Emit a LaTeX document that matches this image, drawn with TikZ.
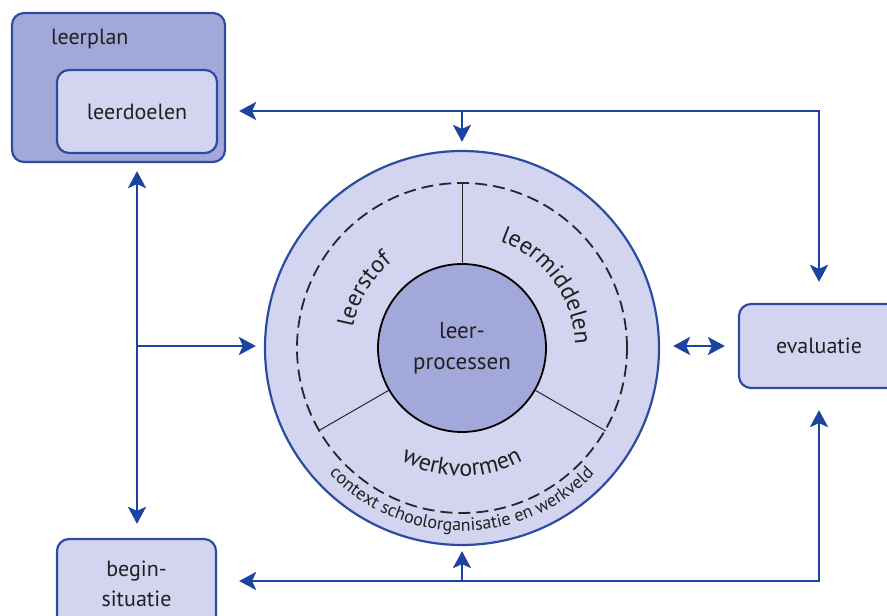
\documentclass[tikz,border=0pt]{standalone}
\usepackage{fontspec}
\setmainfont{PT Sans}
\usetikzlibrary{arrows.meta,decorations.text}
\definecolor{lineblue}{HTML}{1D43A0}
\definecolor{boxblue}{HTML}{2C4CA2}
\definecolor{lightfill}{HTML}{D3D5F0}
\definecolor{darkfill}{HTML}{A3A8DA}
\definecolor{txt}{HTML}{231F20}
\begin{document}
\begin{tikzpicture}[x=1pt,y=1pt,
  bluebox/.style={draw=boxblue, line width=2.2pt, rounded corners=12pt, fill=lightfill,
    inner sep=0pt, text=txt, font=\fontsize{22}{30}\selectfont, align=center},
  arr/.style={draw=lineblue, line width=2.8pt, -{Stealth[length=17pt,width=18pt,inset=4pt]}},
  arrboth/.style={draw=lineblue, line width=2.8pt, {Stealth[length=17pt,width=18pt,inset=4pt]}-{Stealth[length=17pt,width=18pt,inset=4pt]}},
  ctext/.style={decorate, decoration={text along path, text align=center, text={#1}}}
]
\useasboundingbox (0,0) rectangle (887,616);
\clip (0,0) rectangle (887,616);
\coordinate (C) at (462,268);

% boxes
\node[bluebox, fill=darkfill, minimum width=213pt, minimum height=149pt] (leerplan) at (118.5,528.5) {};
\node[text=txt, font=\fontsize{22}{30}\selectfont, anchor=base west, inner sep=0pt] (leerplanlabel) at (51,571) {leerplan};
\node[bluebox, minimum width=160pt, minimum height=83pt] (leerdoelen) at (137,504.5) {leerdoelen};
\node[bluebox, minimum width=160pt, minimum height=84pt] (evaluatie) at (819,270) {evaluatie};
\node[bluebox, minimum width=159pt, minimum height=90pt] (begin) at (136.5,32) {begin-\\situatie};

% circles
\node[circle, draw=boxblue, line width=2.2pt, fill=lightfill, minimum size=394pt, inner sep=0pt] (outer) at (C) {};
\node[circle, draw=black!85, line width=1.8pt, dash pattern=on 12pt off 6pt, minimum size=330pt, inner sep=0pt] (dash) at (C) {};
\draw[black!85, line width=1pt] (C) ++(90:84) -- (dash.90);
\draw[black!85, line width=1pt] (C) ++(210:84) -- (dash.210);
\draw[black!85, line width=1pt] (C) ++(330:84) -- (dash.330);
\node[circle, draw=black, line width=1.8pt, fill=darkfill, minimum size=168pt, inner sep=0pt,
  text=txt, font=\fontsize{23}{31}\selectfont, align=center] (inner) at (C) {leer-\\processen};

% curved texts
\path[ctext={|\fontsize{24}{24}\selectfont\color{txt}|leerstof}] (C) ++(180:111) arc[start angle=180, end angle=118, radius=111];
\path[ctext={|\fontsize{24}{24}\selectfont\color{txt}|leermiddelen}] (C) ++(74:113) arc[start angle=74, end angle=-2, radius=113];
\path[ctext={|\fontsize{24}{24}\selectfont\color{txt}|werkvormen}] (C) ++(228:128) arc[start angle=228, end angle=312, radius=128];
\path[ctext={|\fontsize{18}{18}\selectfont\color{txt}|context schoolorganisatie en werkveld}] (C) ++(212:183) arc[start angle=212, end angle=328, radius=183];

% connectors
\coordinate (TR) at (819,505);
\coordinate (BR) at (819,35);
\coordinate (LV) at (137,270);
\draw[arrboth, shorten <=21pt, shorten >=21pt] (leerdoelen.east |- TR) -- (TR) -- (evaluatie.north);
\draw[arr, shorten >=8pt] (outer.north |- TR) -- (outer.north);
\draw[arrboth, shorten <=8pt, shorten >=14pt] (leerplan.south -| LV) -- (begin.north -| LV);
\draw[arr, shorten >=8pt] (LV) -- (LV -| outer.west);
\draw[arrboth, shorten <=13pt, shorten >=13pt] (evaluatie.west -| outer.east) -- (evaluatie.west);
\draw[arrboth, shorten <=21pt, shorten >=22pt] (evaluatie.south) -- (BR) -- (BR -| begin.east);
\draw[arr, shorten >=5pt] (outer.south |- BR) -- (outer.south);
\end{tikzpicture}
\end{document}
